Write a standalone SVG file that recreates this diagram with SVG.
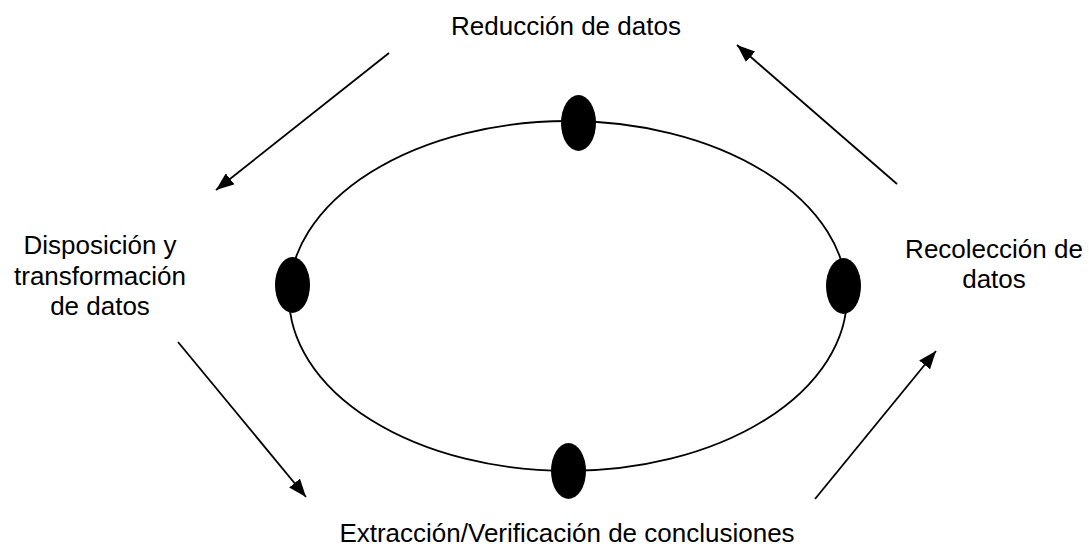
<svg xmlns="http://www.w3.org/2000/svg" width="1089" height="548" viewBox="0 0 1089 548">
<style>
text{font-family:"Liberation Sans",Arial,sans-serif;font-size:26px;fill:#000;text-anchor:middle}
.c{stroke:#000;stroke-width:1.8;fill:none}
.dot{fill:#000}
</style>
<defs>
<marker id="ah" viewBox="0 0 18 14" refX="18" refY="7" markerWidth="18" markerHeight="14" markerUnits="userSpaceOnUse" orient="auto">
<path d="M0,0 L18,7 L0,14 z" fill="#000"/>
</marker>
</defs>
<rect width="1089" height="548" fill="#fff"/>
<g id="cycle">
<ellipse class="c" cx="568" cy="296" rx="279" ry="175"/>
</g>
<g id="dot-top"><ellipse class="dot" cx="578.5" cy="123" rx="17.5" ry="28"/></g>
<g id="dot-left"><ellipse class="dot" cx="292.5" cy="285" rx="17.5" ry="28"/></g>
<g id="dot-right"><ellipse class="dot" cx="843.5" cy="286" rx="17.5" ry="28"/></g>
<g id="dot-bottom"><ellipse class="dot" cx="568.5" cy="471" rx="17.5" ry="28"/></g>
<g id="reduccion"><text x="566" y="35">Reducción de datos</text></g>
<g id="disposicion"><text x="100" y="254">Disposición y</text><text x="100" y="285">transformación</text><text x="100" y="315">de datos</text></g>
<g id="recoleccion"><text x="994" y="258">Recolección de</text><text x="994" y="288">datos</text></g>
<g id="extraccion"><text x="567" y="542">Extracción/Verificación de conclusiones</text></g>
<g id="connectors" class="c">
<line x1="389" y1="53" x2="216" y2="190" marker-end="url(#ah)"/>
<line x1="897" y1="184" x2="737" y2="45" marker-end="url(#ah)"/>
<line x1="178" y1="342" x2="306" y2="497" marker-end="url(#ah)"/>
<line x1="815" y1="499" x2="936" y2="351" marker-end="url(#ah)"/>
</g>
</svg>
